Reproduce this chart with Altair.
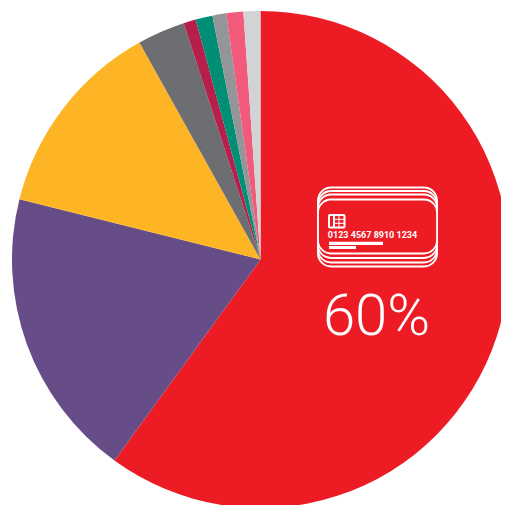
import altair as alt
import pandas as pd

labels = ["a", "b", "c", "d", "e", "f", "g", "h", "i"]
values = [60.0, 18.9, 13.0, 3.1, 0.8, 1.1, 0.9, 1.1, 1.1]
colors = ["#ed1c24", "#674d88", "#fdb525", "#6d6e71", "#b61e4c", "#008f75", "#939598", "#f15a7b", "#d1d3d4"]

card_x1 = [318, 318, 318, 318]
card_x2 = [437, 437, 437, 437]
card_y1 = [187.5, 191, 194.5, 199.5]
card_y2 = [266.5, 262.5, 258, 253.5]

df = pd.DataFrame({"label": labels, "value": values, "order": list(range(len(labels)))})

CX, CY, R = 252.5, 251.5, 248.5
OX, OY = 8, 8

pie = alt.Chart(df).mark_arc(outerRadius=R).encode(
    theta=alt.Theta("value:Q", stack=True, scale=alt.Scale(domain=[0, 100], range=[0, 6.283185307])),
    order=alt.Order("order:Q"),
    color=alt.Color("label:N", scale=alt.Scale(domain=labels, range=colors), legend=None),
    x=alt.value(CX),
    y=alt.value(CY),
)

layers = [pie]
for i in range(4):
    layers.append(
        alt.Chart(pd.DataFrame({"v": [i]})).mark_rect(cornerRadius=13, fill="#ed1c24", stroke="white", strokeWidth=1.8).encode(
            x=alt.value(card_x1[i] - OX), x2=alt.value(card_x2[i] - OX),
            y=alt.value(card_y1[i] - OY), y2=alt.value(card_y2[i] - OY),
        )
    )


def bar(x1, x2, y1, y2):
    return alt.Chart(pd.DataFrame({"v": [0]})).mark_rect(fill="white").encode(
        x=alt.value(x1 - OX), x2=alt.value(x2 - OX), y=alt.value(y1 - OY), y2=alt.value(y2 - OY))


layers += [bar(329, 383, 241.7, 245), bar(329, 356, 246, 249)]

# chip
layers.append(alt.Chart(pd.DataFrame({"v": [0]})).mark_rect(fill="#ed1c24", stroke="white", strokeWidth=2, cornerRadius=1).encode(
    x=alt.value(329 - OX), x2=alt.value(344.5 - OX), y=alt.value(215 - OY), y2=alt.value(227.5 - OY)))
layers.append(bar(333, 335, 215, 227.5))
layers.append(bar(338.5, 339.5, 215, 227.5))
layers.append(bar(335, 344, 218.8, 219.8))
layers.append(bar(335, 344, 222.8, 223.8))


def text(s, x, y, size, weight, font):
    return alt.Chart(pd.DataFrame({"t": [s]})).mark_text(
        color="white", fontSize=size, fontWeight=weight, font=font, align="center", baseline="alphabetic"
    ).encode(x=alt.value(x - OX), y=alt.value(y - OY), text="t:N")


layers.append(text("0123 4567 8910 1234", 372.5, 238, 9, 700, "Roboto"))
layers.append(text("60%", 376.5, 335, 58, 300, "Roboto"))

chart = alt.layer(*layers).properties(
    width=493, height=497, padding=0,
    autosize=alt.AutoSizeParams(type="none"),
).configure_view(stroke=None)

chart.save("out.html", embed_options={"renderer": "svg", "actions": False})
